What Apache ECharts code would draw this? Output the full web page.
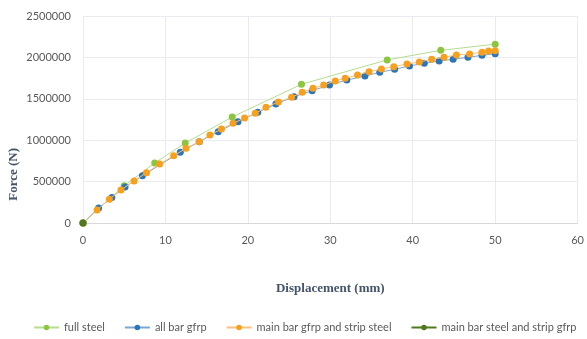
<!DOCTYPE html>
<html><head><meta charset="utf-8">
<script src="https://cdn.jsdelivr.net/npm/echarts@6/dist/echarts.min.js"></script>
<style>html,body{margin:0;padding:0;background:#fff}#c{width:587px;height:339px}</style>
</head><body><div id="c"></div>
<script>
const seriesNames = ['full steel', 'all bar gfrp', 'main bar gfrp and strip steel', 'main bar steel and strip gfrp'];
const fullSteel = [[0,0],[5,450000],[8.7,725000],[12.4,965000],[18.1,1280000],[26.5,1675000],[36.9,1970000],[43.4,2085000],[50,2160000]];
const allBarGfrp = [[0,0],[1.9,180000],[3.5,308000],[5.1,435000],[7.2,570000],[11.8,855000],[14.1,982000],[16.4,1103000],[18.8,1224000],[21.2,1337000],[23.4,1437000],[25.6,1525000],[27.8,1598000],[29.9,1667000],[32.0,1727000],[34.2,1775000],[36.0,1820000],[37.8,1856000],[39.6,1896000],[41.4,1929000],[43.2,1956000],[44.9,1977000],[46.7,2001000],[48.4,2025000],[50,2045000]];
const mainGfrpStripSteel = [[0,0],[1.7,157000],[3.2,286000],[4.6,398000],[6.2,507000],[7.7,608000],[9.3,712000],[11.0,813000],[12.5,902000],[14.1,982000],[15.4,1063000],[16.8,1135000],[18.2,1204000],[19.6,1268000],[20.9,1325000],[22.2,1397000],[23.7,1461000],[25.3,1518000],[26.6,1578000],[27.9,1627000],[29.2,1667000],[30.6,1715000],[31.8,1748000],[33.3,1787000],[34.7,1827000],[36.2,1860000],[37.7,1888000],[39.3,1920000],[40.8,1944000],[42.3,1977000],[43.8,2001000],[45.3,2029000],[46.9,2041000],[48.4,2062000],[49.2,2077000],[50,2081000]];
const mainSteelStripGfrp = [[0,0]];
const colors = ['#8cc540', '#2e75b6', '#f7a01e', '#4f7a1c'];
const lineColors = ['#b5dc8f', '#7aa6d3', '#f8c17a', '#4f7a1c'];
const xTicks = {min:0, max:60, interval:10};
const yTicks = {min:0, max:2500000, interval:500000};

const datasets = [fullSteel, allBarGfrp, mainGfrpStripSteel, mainSteelStripGfrp];
const chart = echarts.init(document.getElementById('c'));
chart.setOption({
  animation: false,
  color: colors,
  grid: {left: 83, right: 7, top: 16, bottom: 116},
  xAxis: {
    type: 'value', min: xTicks.min, max: xTicks.max, interval: xTicks.interval,
    name: 'Displacement (mm)', nameLocation: 'middle', nameGap: 59,
    nameTextStyle: {fontFamily: 'Liberation Serif', fontWeight: 'bold', fontSize: 13, color: '#44546a'},
    axisLine: {lineStyle: {color: '#d9d9d9'}},
    axisTick: {show: false},
    axisLabel: {color: '#595959', fontFamily: 'Lato', fontSize: 11, margin: 12},
    splitLine: {show: true, lineStyle: {color: '#e8ecf2'}}
  },
  yAxis: {
    type: 'value', min: yTicks.min, max: yTicks.max, interval: yTicks.interval,
    axisLine: {show: false},
    axisTick: {show: false},
    axisLabel: {color: '#595959', fontFamily: 'Lato', fontSize: 11, margin: 12, formatter: v => String(v)},
    splitLine: {show: true, lineStyle: {color: '#e8ecf2'}}
  },
  graphic: [{
    type: 'text', left: 7, top: 148, rotation: Math.PI/2,
    style: {text: 'Force (N)', fontFamily: 'Liberation Serif', fontWeight: 'bold', fontSize: 13, fill: '#44546a'}
  }],
  legend: {
    bottom: 1, left: 28, itemWidth: 25, itemHeight: 7, itemGap: 19,
    textStyle: {color: '#595959', fontFamily: 'Lato', fontSize: 11},
    data: seriesNames
  },
  series: datasets.map((d, i) => ({
    name: seriesNames[i], type: 'line', data: d,
    symbol: 'circle', symbolSize: 7,
    itemStyle: {color: colors[i]},
    lineStyle: {color: lineColors[i], width: 1},
    z: i === 3 ? 5 : 2 + (i === 2 ? 1 : 0)
  }))
});
</script></body></html>
